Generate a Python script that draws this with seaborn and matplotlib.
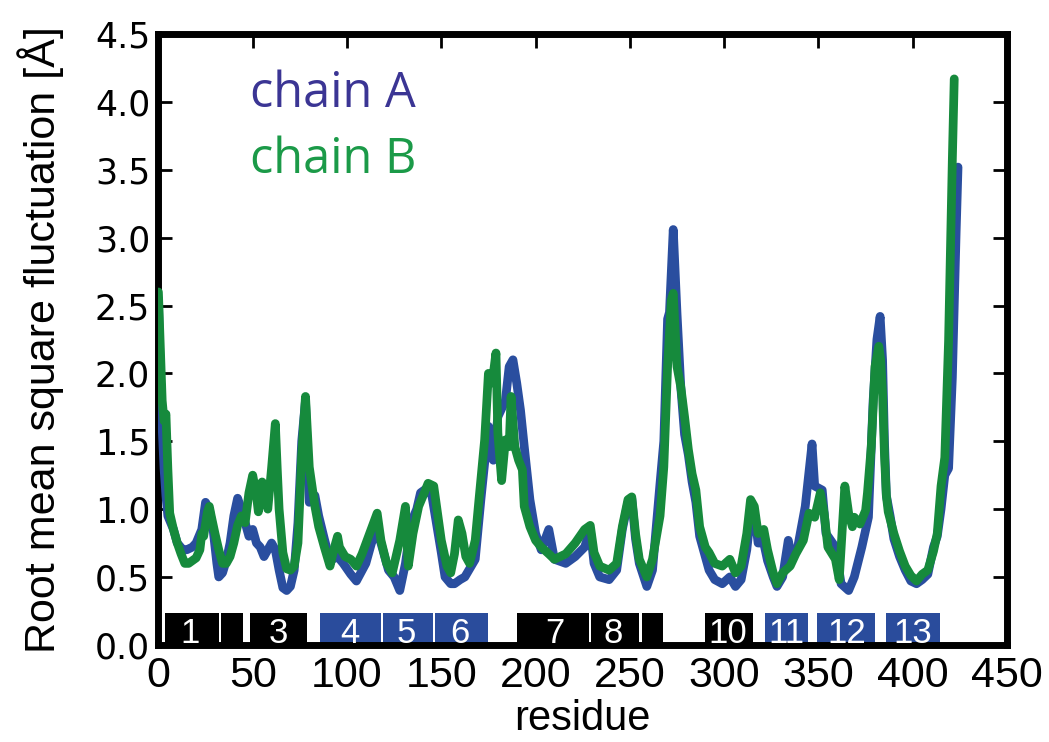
import matplotlib
matplotlib.use("Agg")
import matplotlib.pyplot as plt
import seaborn as sns
import numpy as np
import pandas as pd

# ---------------- data ----------------
resid_A = [0, 1, 2, 3, 4, 5, 8, 10, 13, 15, 18, 20, 23, 25, 27, 29, 31, 32, 34, 36, 38, 40, 42, 44, 46, 48,
           50, 52, 54, 56, 58, 60, 62, 64, 66, 68, 70, 72, 74, 76, 78, 80, 83, 85, 88, 91, 95, 98, 102, 105,
           110, 113, 116, 119, 122, 125, 128, 131, 134, 137, 139, 142, 145, 148, 150, 152, 155, 157, 160,
           162.5, 168, 171, 175, 177.6, 180, 184, 186, 188, 190, 192, 194, 197, 200, 203, 207, 210, 216,
           221, 226, 229, 231, 234, 239, 243, 246, 249, 251, 253, 255, 259, 262, 266, 268, 270, 271, 273,
           275, 277, 279, 281, 283, 285, 287, 290, 292, 295, 299, 303, 306, 309, 312, 314.5, 316, 318, 321,
           323, 326, 328, 331, 334, 336, 339, 343, 346.6, 348, 352, 354, 359, 362, 366, 369, 373, 376.5,
           379, 381, 382.7, 384, 385, 386, 388, 390, 393, 396, 399, 402, 405, 408, 411, 413, 415, 417, 419,
           421, 423, 424]
rmsf_A = [2.55, 2.0, 1.6, 1.3, 1.1, 0.95, 0.85, 0.75, 0.7, 0.7, 0.72, 0.75, 0.85, 1.05, 1.0, 0.85, 0.6, 0.5,
          0.53, 0.62, 0.75, 0.95, 1.08, 1.0, 0.9, 0.8, 0.85, 0.75, 0.72, 0.65, 0.7, 0.75, 0.7, 0.55, 0.42,
          0.4, 0.43, 0.55, 0.9, 1.5, 1.8, 1.05, 1.1, 0.95, 0.78, 0.62, 0.65, 0.6, 0.52, 0.47, 0.6, 0.75,
          0.85, 0.7, 0.55, 0.5, 0.4, 0.6, 0.9, 1.0, 1.12, 1.15, 1.1, 0.85, 0.68, 0.5, 0.45, 0.45, 0.48,
          0.5, 0.63, 1.07, 1.61, 1.36, 1.68, 1.8, 2.05, 2.1, 1.93, 1.73, 1.46, 1.07, 0.82, 0.7, 0.85, 0.63,
          0.6, 0.65, 0.72, 0.85, 0.6, 0.5, 0.48, 0.55, 0.85, 1.05, 1.08, 0.78, 0.6, 0.43, 0.55, 1.19, 1.5,
          2.4, 2.45, 3.06, 2.44, 1.9, 1.55, 1.4, 1.2, 1.05, 0.8, 0.65, 0.55, 0.48, 0.45, 0.5, 0.43, 0.48,
          0.7, 1.02, 0.98, 0.75, 0.75, 0.62, 0.5, 0.43, 0.5, 0.77, 0.63, 0.72, 1.02, 1.48, 1.17, 1.14,
          0.82, 0.72, 0.45, 0.4, 0.5, 0.72, 0.94, 1.8, 2.25, 2.42, 2.1, 1.5, 1.1, 0.95, 0.78, 0.65, 0.55,
          0.47, 0.45, 0.48, 0.52, 0.72, 0.8, 1.0, 1.25, 1.3, 1.97, 3.04, 3.52]

resid_B = [0, 1, 2, 3, 4, 5, 6, 8, 10, 12, 14, 16, 18, 20, 22, 23, 24, 26, 27, 28, 30, 32, 34, 36, 38, 40,
           42, 44, 46, 48, 50, 52, 53, 55, 56, 58, 60, 62, 63, 64, 66, 68, 70, 72, 74, 76, 78, 80, 83, 85,
           88, 91, 93, 95, 96, 99, 102, 105, 108, 112, 116, 118, 121, 124, 128, 131, 132.5, 135, 138, 141,
           143, 146, 148, 150, 153, 155, 157, 159, 161, 163, 165, 168, 170, 173, 175, 177, 179, 180, 182,
           184, 186, 187, 189, 191, 193, 194, 197, 200, 203, 207, 210, 216, 221, 226, 229, 231, 234, 239,
           243, 246, 249, 251, 253, 255, 259, 262, 266, 268, 270, 272, 273, 275, 277, 279, 281, 283, 285,
           287, 290, 292, 295, 299, 303, 306, 309, 312, 314, 316, 318, 321, 323, 326, 328, 331, 335, 338,
           342, 345, 348, 351, 353, 355, 359, 361, 364, 366, 368, 369, 372, 375, 376, 378, 380, 382, 383,
           384, 385, 386, 387, 390, 393, 396, 399, 402, 405, 408, 411, 413, 415, 417, 419, 421, 422]
rmsf_B = [2.6, 2.2, 1.8, 1.65, 1.7, 1.3, 0.97, 0.85, 0.75, 0.67, 0.6, 0.6, 0.62, 0.64, 0.7, 0.82, 0.8, 0.98,
          1.02, 0.95, 0.82, 0.7, 0.6, 0.6, 0.65, 0.75, 0.88, 0.95, 0.9, 1.12, 1.25, 1.1, 0.98, 1.2, 1.15,
          1.0, 1.3, 1.63, 1.3, 1.0, 0.68, 0.56, 0.55, 0.58, 0.75, 1.4, 1.83, 1.31, 1.02, 0.87, 0.72, 0.58,
          0.7, 0.8, 0.72, 0.65, 0.63, 0.58, 0.67, 0.82, 0.97, 0.77, 0.6, 0.53, 0.77, 1.02, 0.58, 0.82, 1.02,
          1.12, 1.19, 1.17, 0.97, 0.77, 0.58, 0.53, 0.67, 0.92, 0.82, 0.65, 0.6, 0.77, 1.07, 1.51, 2.0,
          1.93, 2.15, 1.56, 1.21, 1.51, 1.46, 1.83, 1.46, 1.36, 1.29, 1.02, 0.87, 0.77, 0.72, 0.67, 0.63,
          0.67, 0.75, 0.85, 0.88, 0.68, 0.58, 0.55, 0.6, 0.87, 1.07, 1.09, 0.82, 0.63, 0.5, 0.63, 0.95,
          1.31, 2.05, 2.54, 2.59, 2.05, 1.9, 1.68, 1.44, 1.26, 1.14, 0.87, 0.72, 0.68, 0.6, 0.58, 0.63,
          0.53, 0.58, 0.82, 1.07, 1.02, 0.82, 0.85, 0.7, 0.53, 0.45, 0.53, 0.58, 0.67, 0.77, 0.97, 0.94,
          1.12, 0.97, 0.72, 0.63, 0.48, 1.17, 0.97, 0.87, 0.94, 0.89, 0.99, 1.12, 1.46, 2.05, 2.2, 2.1,
          1.85, 1.4, 1.1, 0.98, 0.82, 0.69, 0.58, 0.51, 0.47, 0.52, 0.55, 0.69, 0.82, 1.17, 1.38, 2.24,
          3.58, 4.17]

# secondary-structure boxes
box_start = [3.4, 33.2, 48.5, 85.6, 119.2, 146.6, 190, 229.6, 256.2, 289.8, 321.6, 349, 386]
box_end = [32.0, 45.0, 78.6, 118.0, 145.4, 175.0, 228.4, 255.0, 267.7, 315.5, 344.6, 380, 414.5]
box_kind = ["k", "k", "k", "b", "b", "b", "k", "k", "k", "k", "b", "b", "b"]
box_label_x = [16.7, 63.5, 101.6, 131.6, 160, 210, 241, 302, 333, 365, 400]
box_label_text = ["1", "3", "4", "5", "6", "7", "8", "10", "11", "12", "13"]

x_ticks = [0, 50, 100, 150, 200, 250, 300, 350, 400, 450]
y_ticks = [0.0, 0.5, 1.0, 1.5, 2.0, 2.5, 3.0, 3.5, 4.0, 4.5]
series_names = ["chain A", "chain B"]

# ---------------- style ----------------
sns.set_theme(style="ticks")
plt.rcParams["font.family"] = ["DejaVu Sans"]
plt.rcParams.update({"text.color": "black", "axes.labelcolor": "black",
                     "xtick.color": "black", "ytick.color": "black",
                     "xtick.labelcolor": "black", "ytick.labelcolor": "black"})
COND = ["Liberation Sans", "DejaVu Sans"]
BLUE_LINE = "#2a4e9f"
GREEN_LINE = "#168a3c"
BLUE_BOX = "#2a4c9c"
BLUE_TEXT = "#3b3594"
GREEN_TEXT = "#1b9a48"

fig = plt.figure(figsize=(10.49, 7.42), dpi=100)
ax = fig.add_axes([0.151, 0.131, 0.809, 0.823])

dfA = pd.DataFrame({"residue": resid_A, "rmsf": rmsf_A})
dfB = pd.DataFrame({"residue": resid_B, "rmsf": rmsf_B})
sns.lineplot(data=dfA, x="residue", y="rmsf", color=BLUE_LINE, lw=6.3, ax=ax,
             estimator=None, zorder=3)
sns.lineplot(data=dfB, x="residue", y="rmsf", color=GREEN_LINE, lw=6.3, ax=ax,
             estimator=None, zorder=4)

# boxes
for s, e, k in zip(box_start, box_end, box_kind):
    ax.bar(x=s, height=0.235, width=e - s, bottom=0, align="edge",
           color=("black" if k == "k" else BLUE_BOX), linewidth=0, zorder=1)
for x, t in zip(box_label_x, box_label_text):
    ax.text(x, 0.013, t, color="white", ha="center", va="baseline",
            fontsize=25, family=COND, zorder=5)

# legend-like texts
ax.text(48.5, 3.96, series_names[0], color=BLUE_TEXT, fontsize=35,
        family=["Open Sans", "DejaVu Sans"], va="baseline", ha="left")
ax.text(48.5, 3.48, series_names[1], color=GREEN_TEXT, fontsize=35,
        family=["Open Sans", "DejaVu Sans"], va="baseline", ha="left")

ax.set_xlim(0, 450)
ax.set_ylim(0, 4.5)
ax.set_xticks(x_ticks)
ax.set_yticks(y_ticks)
ax.set_xticklabels([str(v) for v in x_ticks], family=COND, fontsize=31)
ax.set_yticklabels([f"{v:.1f}" for v in y_ticks], fontsize=25)
ax.tick_params(direction="in", length=10, width=2, top=True, right=True,
               color="black", labelcolor="black")
ax.tick_params(axis="x", pad=8)
ax.tick_params(axis="y", pad=6)
for sp in ax.spines.values():
    sp.set_visible(True)
    sp.set_linewidth(5)
    sp.set_color("black")

ax.set_xlabel("residue", family=COND, fontsize=30, labelpad=2, color="black")
ax.set_ylabel("Root mean square fluctuation [Å]", family=COND, fontsize=31,
              labelpad=22, color="black")

fig.savefig("out.png", dpi=100)
